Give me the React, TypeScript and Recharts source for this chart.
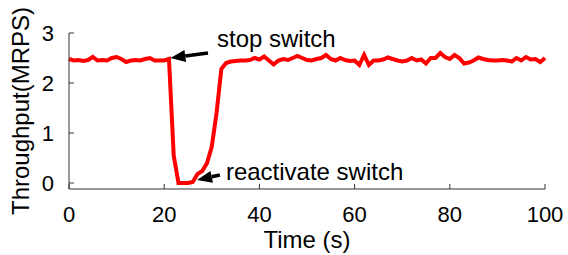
import React from 'react'
import { LineChart, Line, XAxis, YAxis, ReferenceLine } from 'recharts'

// throughput in MRPS, one sample per second (t = 0..100)
const throughput = [
  2.48, 2.45, 2.46, 2.44, 2.46, 2.52, 2.45, 2.46, 2.45, 2.5,
  2.52, 2.48, 2.42, 2.45, 2.46, 2.45, 2.48, 2.5, 2.45, 2.45,
  2.45, 2.48, 0.55, 0, 0, 0, 0.02, 0.18, 0.24, 0.4,
  0.73, 1.4, 2.28, 2.4, 2.43, 2.44, 2.45, 2.45, 2.46, 2.5,
  2.47, 2.53, 2.45, 2.37, 2.45, 2.48, 2.46, 2.5, 2.54, 2.5,
  2.46, 2.45, 2.48, 2.5, 2.56, 2.48, 2.45, 2.5, 2.46, 2.44,
  2.45, 2.36, 2.56, 2.36, 2.45, 2.45, 2.47, 2.51, 2.48, 2.45,
  2.43, 2.45, 2.5, 2.45, 2.47, 2.39, 2.5, 2.5, 2.6, 2.52,
  2.48, 2.56, 2.5, 2.39, 2.41, 2.45, 2.51, 2.48, 2.46, 2.45,
  2.45, 2.46, 2.45, 2.43, 2.5, 2.45, 2.52, 2.47, 2.48, 2.42,
  2.5,
]
const seconds = throughput.map((_, i) => i)

const xTicks = [0, 20, 40, 60, 80, 100]
const yTicks = [0, 1, 2, 3]

// annotation arrows: [tail, tip] in data coordinates
const stopArrow = [{ x: 29.2, y: 2.6 }, { x: 21.3, y: 2.5 }]
const reactivateArrow = [{ x: 31.7, y: 0.16 }, { x: 26.9, y: 0.06 }]

const data = seconds.map((t, i) => ({ t, v: throughput[i] }))

const FONT = '"Liberation Sans", Arial, sans-serif'

function makeArrow(text: string, tdx: number, tdy: number) {
  return function ArrowShape(props: any) {
    const { x1, y1, x2, y2 } = props
    if ([x1, y1, x2, y2].some((n) => typeof n !== 'number' || isNaN(n))) return null
    const len = Math.hypot(x2 - x1, y2 - y1) || 1
    const ux = (x2 - x1) / len
    const uy = (y2 - y1) / len
    const bx = x2 - ux * 15
    const by = y2 - uy * 15
    const nx = -uy * 6
    const ny = ux * 6
    return (
      <g>
        <line x1={x1} y1={y1} x2={bx} y2={by} stroke="#000" strokeWidth={3.5} />
        <polygon points={`${x2},${y2} ${bx + nx},${by + ny} ${bx - nx},${by - ny}`} fill="#000" />
        <text x={x1 + tdx} y={y1 + tdy} fontSize={24} fontFamily={FONT} fill="#000">
          {text}
        </text>
      </g>
    )
  }
}

const StopShape = makeArrow('stop switch', 9, -6)
const ReactivateShape = makeArrow('reactivate switch', 6, 5)

export default function App() {
  return (
    <div style={{ position: 'absolute', left: 0, top: 0, width: 568, height: 255, background: '#fff', fontFamily: FONT }}>
      <LineChart width={568} height={255} data={data} margin={{ top: 33, right: 23, left: 0, bottom: 0 }}>
        <XAxis
          dataKey="t"
          type="number"
          domain={[0, 100]}
          ticks={xTicks}
          height={66}
          tickSize={-5}
          tickMargin={22}
          stroke="#333"
          tick={{ fontSize: 22, fill: '#000', fontFamily: FONT }}
          label={{ value: 'Time (s)', position: 'insideBottom', offset: 7, style: { fontSize: 24, fill: '#000', fontFamily: FONT } }}
        />
        <YAxis
          type="number"
          domain={[-0.12, 3]}
          ticks={yTicks}
          width={69}
          tickSize={-5}
          tickMargin={20}
          stroke="#333"
          tick={{ fontSize: 22, fill: '#000', fontFamily: FONT }}
          label={{
            value: 'Throughput(MRPS)',
            angle: -90,
            position: 'insideLeft',
            offset: 20,
            style: { textAnchor: 'middle', fontSize: 24, fill: '#000', fontFamily: FONT },
          }}
        />
        <Line
          dataKey="v"
          type="linear"
          stroke="#ff0000"
          strokeWidth={4}
          dot={false}
          isAnimationActive={false}
        />
        <ReferenceLine segment={stopArrow} shape={StopShape} ifOverflow="visible" />
        <ReferenceLine segment={reactivateArrow} shape={ReactivateShape} ifOverflow="visible" />
      </LineChart>
    </div>
  )
}
